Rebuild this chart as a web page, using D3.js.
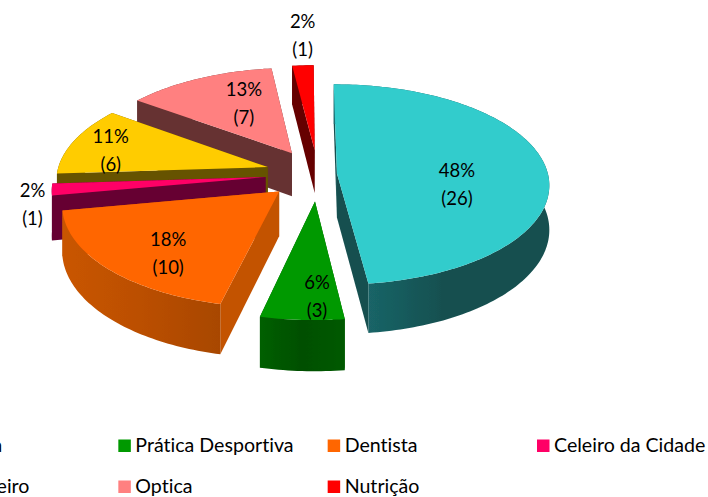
<!DOCTYPE html>
<html><head><meta charset="utf-8">
<script src="https://cdnjs.cloudflare.com/ajax/libs/d3/7.8.5/d3.min.js"></script>
<style>html,body{margin:0;padding:0;background:#fff;overflow:hidden}svg{display:block}text{font-family:Lato,"Open Sans",sans-serif;fill:#000;font-variant-ligatures:none}</style>
</head><body>
<script>
// ---- data ----
const categories = ["Farmácia","Prática Desportiva","Dentista","Celeiro da Cidade","Cabeleireiro","Optica","Nutrição"];
const values = [26,3,10,1,6,7,1];
const percents = ["48%","6%","18%","2%","11%","13%","2%"];

// ---- style / layout ----
const W=708,H=497;
const topColors = ["#33CCCC","#009900","#FF6600","#FF0066","#FFCC00","#FF8080","#FF0000"];
const wallColors = ["#155050","#005C00","#C35200","#660033","#665200","#663333","#660000"];
const rimStops = [["#1C6E72","#155050","#155050"],["#005F00","#004F00","#005A00"],["#C95500","#BB4F00","#A84700"],
  ["#660033","#660033","#660033"],["#665200","#665200","#665200"],["#663333","#663333","#663333"],["#660000","#660000","#660000"]];
const explode = [0.09,0.27,0.25,0.25,0.25,0.25,0.25];
const labelOffset = [[120,11],[2,94],[-111,62],[-233,27],[-157,-17],[-48,-50],[-12,-115]];
const paintOrder = [6,5,4,3,2,1,0];
const rotation = -0.4*Math.PI/180;
const cx=318,cy=174,Rx=211,Ry=99,k=0.11,depth=44;

const project=(X,Y,h)=>{const f=1/(1+k*Y);return [cx+Rx*X*f, cy-Ry*Y*f+h*depth*f];};
const pie=d3.pie().sort(null).value(d=>d).startAngle(rotation).endAngle(2*Math.PI+rotation);
const arcs=pie(values);

const svg=d3.select("body").append("svg").attr("width",W).attr("height",H);
const defs=svg.append("defs");
defs.append("filter").attr("id","soft").append("feGaussianBlur").attr("stdDeviation",0.45);
const line=d3.line();
const pieG=svg.append("g").attr("filter","url(#soft)");

function slice(i){
  const a=arcs[i],mid=(a.startAngle+a.endAngle)/2,e=explode[i];
  const ox=e*Math.sin(mid),oy=e*Math.cos(mid);
  const n=Math.max(4,Math.ceil((a.endAngle-a.startAngle)/0.02));
  const ang=d3.range(n+1).map(j=>a.startAngle+(a.endAngle-a.startAngle)*j/n);
  const pt=(t,h)=>project(ox+Math.sin(t),oy+Math.cos(t),h);
  const apex=h=>project(ox,oy,h);
  return {a,ang,pt,apex,oy};
}

paintOrder.forEach(i=>{
  const s=slice(i),g=pieG.append("g");
  const grad=defs.append("linearGradient").attr("id","rim"+i);
  rimStops[i].forEach((c,j)=>grad.append("stop").attr("offset",j/2).attr("stop-color",c));
  const st=s.a.startAngle,en=s.a.endAngle;
  const walls=[
    {pts:[s.apex(0),s.pt(st,0),s.pt(st,1),s.apex(1)],fill:wallColors[i],y:s.oy+Math.cos(st)/2},
    {pts:[s.apex(0),s.pt(en,0),s.pt(en,1),s.apex(1)],fill:wallColors[i],y:s.oy+Math.cos(en)/2},
    {pts:s.ang.map(t=>s.pt(t,0)).concat(s.ang.slice().reverse().map(t=>s.pt(t,1))),fill:`url(#rim${i})`,
     y:s.oy+d3.min(s.ang.map(Math.cos))}
  ].sort((p,q)=>q.y-p.y);
  g.selectAll("path.wall").data(walls).join("path").attr("class","wall")
    .attr("d",d=>line(d.pts)+"Z").attr("fill",d=>d.fill);
  g.append("path").attr("d",line([s.apex(0)].concat(s.ang.map(t=>s.pt(t,0))))+"Z").attr("fill",topColors[i]);
});

// value labels
const labels=svg.append("g").attr("font-size",18.5).attr("text-anchor","middle");
arcs.forEach((a,i)=>{
  const p=slice(i).apex(0),o=labelOffset[i];
  const t=labels.append("text").attr("x",p[0]+o[0]).attr("y",p[1]+o[1]);
  t.append("tspan").attr("x",p[0]+o[0]).attr("dy",-7).text(percents[i]);
  t.append("tspan").attr("x",p[0]+o[0]).attr("dy",28).text(`(${a.value})`);
});

// legend
const colX=d3.scaleLinear().domain([0,3]).range([-91,537]);
const rowY=d3.scaleLinear().domain([0,1]).range([446,487]);
const place=i=>[colX(i<4?i:i-4),rowY(i<4?0:1)];
const lg=svg.append("g").selectAll("g").data(categories).join("g")
  .attr("transform",(d,i)=>`translate(${place(i)})`);
lg.append("rect").attr("x",0).attr("y",-6.5).attr("width",12.5).attr("height",12.5)
  .attr("fill",(d,i)=>topColors[i]);
lg.append("text").attr("x",17).attr("y",6).attr("font-size",19.6).text(d=>d);
</script>
</body></html>
